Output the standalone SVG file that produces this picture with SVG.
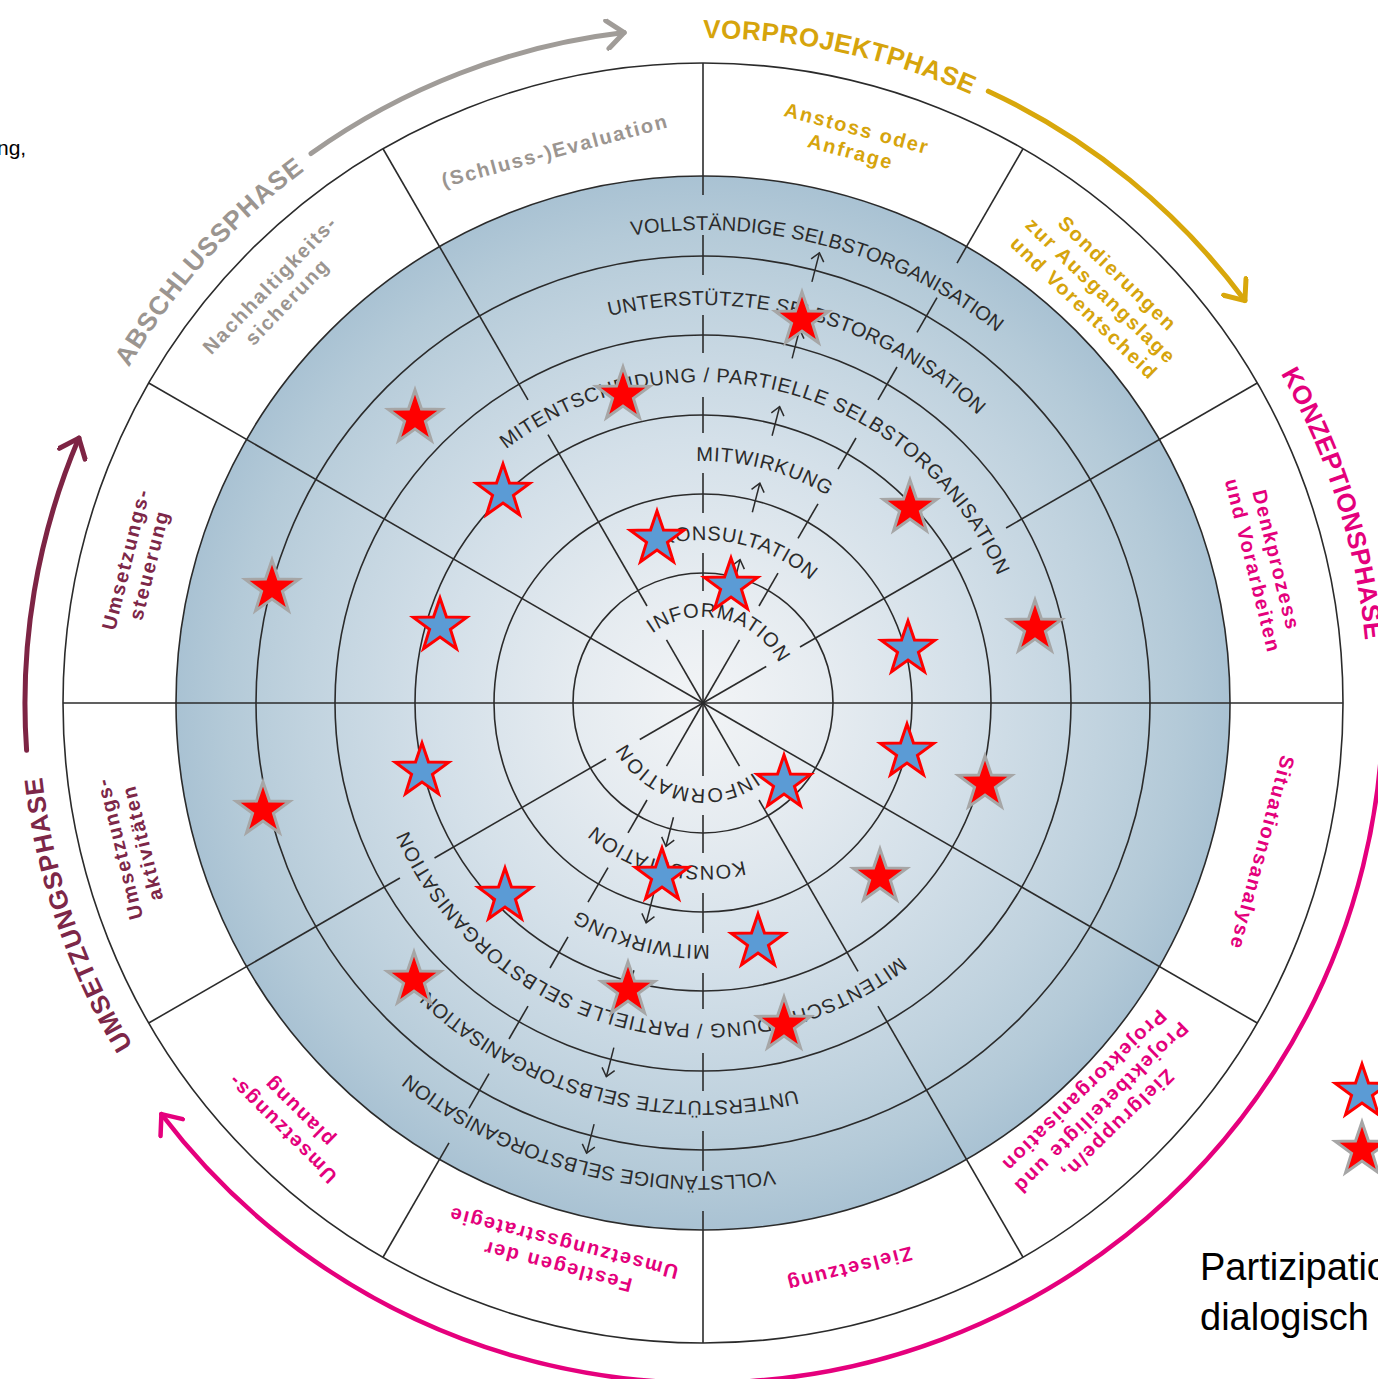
<svg xmlns="http://www.w3.org/2000/svg" xmlns:xlink="http://www.w3.org/1999/xlink" width="1378" height="1379" viewBox="0 0 1378 1379">
<style>
.c{fill:none;stroke:#2b2b2b;stroke-width:1.6}
.sp line{stroke:#2b2b2b;stroke-width:1.6}
.lvl{font-family:"Liberation Sans",Arial,sans-serif;font-size:20px;fill:#2b2b2b}
.ph{font-family:"Liberation Sans",Arial,sans-serif;font-weight:bold;font-size:26px}
.lab{font-family:"Liberation Sans",Arial,sans-serif;font-weight:bold;font-size:20px;letter-spacing:1.8px;text-anchor:middle}
.gray{fill:#9b9590}.gold{fill:#d6a40c}.pink{fill:#e4007c}.maroon{fill:#7d2748}
.arr{fill:none;stroke-linecap:round}
.bs{fill:#5b9bd5;stroke:#ff0000;stroke-width:3}
.rs{fill:#ff0000;stroke:#a6a6a6;stroke-width:3}
.note{font-family:"Liberation Sans",Arial,sans-serif;fill:#000}
</style>
<defs>
<radialGradient id="shade" cx="703" cy="703" r="527" gradientUnits="userSpaceOnUse">
<stop offset="0" stop-color="#f2f4f6"/>
<stop offset="0.25" stop-color="#e5ebf0"/>
<stop offset="0.5" stop-color="#d4e0e9"/>
<stop offset="0.75" stop-color="#c1d3df"/>
<stop offset="0.9" stop-color="#b4cad8"/>
<stop offset="1" stop-color="#a9c2d3"/>
</radialGradient>
<polygon id="star" points="0,-28 6.47,-8.9 26.63,-8.65 10.46,3.4 16.46,22.65 0,11 -16.46,22.65 -10.46,3.4 -26.63,-8.65 -6.47,-8.9"/>
<marker id="mk" viewBox="-10 -8 12 16" refX="0" refY="0" markerWidth="12" markerHeight="16" markerUnits="userSpaceOnUse" orient="auto"><path d="M-8,-6.5 L0,0 L-8,6.5" fill="none" stroke="#2b2b2b" stroke-width="1.5"/></marker>
<marker id="mGray" viewBox="-20 -16 24 32" refX="0" refY="0" markerWidth="24" markerHeight="32" markerUnits="userSpaceOnUse" orient="auto"><path d="M-17,-14 L0,0 L-17,14" fill="none" stroke="#a09c98" stroke-width="5" stroke-linecap="round" stroke-linejoin="round"/></marker>
<marker id="mGold" viewBox="-20 -16 24 32" refX="0" refY="0" markerWidth="24" markerHeight="32" markerUnits="userSpaceOnUse" orient="auto"><path d="M-17,-14 L0,0 L-17,14" fill="none" stroke="#d8a70b" stroke-width="5" stroke-linecap="round" stroke-linejoin="round"/></marker>
<marker id="mPink" viewBox="-20 -16 24 32" refX="0" refY="0" markerWidth="24" markerHeight="32" markerUnits="userSpaceOnUse" orient="auto"><path d="M-17,-14 L0,0 L-17,14" fill="none" stroke="#e5007d" stroke-width="4.5" stroke-linecap="round" stroke-linejoin="round"/></marker>
<marker id="mMaroon" viewBox="-20 -16 24 32" refX="0" refY="0" markerWidth="24" markerHeight="32" markerUnits="userSpaceOnUse" orient="auto"><path d="M-17,-14 L0,0 L-17,14" fill="none" stroke="#7d2444" stroke-width="5" stroke-linecap="round" stroke-linejoin="round"/></marker>
<path id="p1" d="M652.45,633.42 A86,86 0 0 1 788.53,694.01"/>
<path id="p2" d="M662.19,545.20 A163,163 0 0 1 856.17,647.25"/>
<path id="p3" d="M696.24,461.09 A242,242 0 0 1 912.58,582"/>
<path id="p4" d="M506.26,449.35 A321,321 0 0 1 1019.12,647.27"/>
<path id="p5" d="M609.43,316.14 A398,398 0 0 1 1047.68,504"/>
<path id="p6" d="M631.44,235.44 A473,473 0 0 1 1090.47,431.69"/>
<path id="q1" d="M703,38 A665,665 0 0 1 1035.5,127.1"/>
<path id="q2" d="M1280.6,373.5 A665,665 0 0 1 1357.9,818.5"/>
<path id="q3" d="M133.0,1045.5 A665,665 0 0 1 40.5,645.0"/>
<path id="q4" d="M128.8,367.5 A665,665 0 0 1 370.5,127.1"/>
<g id="tickSpoke" class="sp">
<line x1="703" y1="703" x2="703" y2="630"/>
<line x1="703" y1="591" x2="703" y2="553"/>
<line x1="703" y1="513" x2="703" y2="473"/>
<line x1="703" y1="433" x2="703" y2="397"/>
<line x1="703" y1="353" x2="703" y2="315"/>
<line x1="703" y1="275" x2="703" y2="235"/>
<line x1="703" y1="195" x2="703" y2="63"/>
</g>
<g id="gapSpoke" class="sp">
<line x1="703" y1="703" x2="703" y2="630"/>
<line x1="703" y1="591" x2="703" y2="393"/>
<line x1="703" y1="353" x2="703" y2="63"/>
</g>
<g id="fullSpoke" class="sp"><line x1="703" y1="703" x2="703" y2="63"/></g>
<g id="levelArrows">
<line x1="703" y1="585" x2="703" y2="555" stroke="#2b2b2b" stroke-width="1.5" marker-end="url(#mk)"/>
<line x1="703" y1="506" x2="703" y2="476" stroke="#2b2b2b" stroke-width="1.5" marker-end="url(#mk)"/>
<line x1="703" y1="427" x2="703" y2="397" stroke="#2b2b2b" stroke-width="1.5" marker-end="url(#mk)"/>
<line x1="703" y1="347" x2="703" y2="317" stroke="#2b2b2b" stroke-width="1.5" marker-end="url(#mk)"/>
<line x1="703" y1="268" x2="703" y2="238" stroke="#2b2b2b" stroke-width="1.5" marker-end="url(#mk)"/>
</g>
</defs>
<rect width="1378" height="1379" fill="#ffffff"/>

<g id="disc">
<circle cx="703" cy="703" r="640" fill="#ffffff"/>
<circle cx="703" cy="703" r="527" fill="url(#shade)"/>
</g>

<g id="rings">
<circle class="c" cx="703" cy="703" r="130"/>
<circle class="c" cx="703" cy="703" r="209"/>
<circle class="c" cx="703" cy="703" r="288"/>
<circle class="c" cx="703" cy="703" r="368"/>
<circle class="c" cx="703" cy="703" r="447"/>
<circle class="c" cx="703" cy="703" r="527"/>
<circle class="c" cx="703" cy="703" r="640"/>
</g>

<g id="connectors">
<use href="#tickSpoke"/>
<use href="#tickSpoke" transform="rotate(30 703 703)"/>
<use href="#tickSpoke" transform="rotate(180 703 703)"/>
<use href="#tickSpoke" transform="rotate(210 703 703)"/>
<use href="#gapSpoke" transform="rotate(-30 703 703)"/>
<use href="#gapSpoke" transform="rotate(60 703 703)"/>
<use href="#gapSpoke" transform="rotate(150 703 703)"/>
<use href="#gapSpoke" transform="rotate(240 703 703)"/>
<use href="#fullSpoke" transform="rotate(90 703 703)"/>
<use href="#fullSpoke" transform="rotate(120 703 703)"/>
<use href="#fullSpoke" transform="rotate(270 703 703)"/>
<use href="#fullSpoke" transform="rotate(300 703 703)"/>
<use href="#levelArrows" transform="rotate(14.5 703 703)"/>
<use href="#levelArrows" transform="rotate(194.5 703 703)"/>
</g>

<g id="levels-top">
<text class="lvl" letter-spacing="0.9"><textPath href="#p1">INFORMATION</textPath></text>
<text class="lvl" letter-spacing="0.66"><textPath href="#p2">KONSULTATION</textPath></text>
<text class="lvl" letter-spacing="0.75"><textPath href="#p3">MITWIRKUNG</textPath></text>
<text class="lvl" letter-spacing="0.75"><textPath href="#p4">MITENTSCHEIDUNG / PARTIELLE SELBSTORGANISATION</textPath></text>
<text class="lvl" letter-spacing="0.16"><textPath href="#p5">UNTERSTÜTZTE SELBSTORGANISATION</textPath></text>
<text class="lvl" letter-spacing="0.05"><textPath href="#p6">VOLLSTÄNDIGE SELBSTORGANISATION</textPath></text>
</g>
<g id="levels-bottom" transform="rotate(180 703 703)">
<text class="lvl" letter-spacing="0.9"><textPath href="#p1">INFORMATION</textPath></text>
<text class="lvl" letter-spacing="0.66"><textPath href="#p2">KONSULTATION</textPath></text>
<text class="lvl" letter-spacing="0.75"><textPath href="#p3">MITWIRKUNG</textPath></text>
<text class="lvl" letter-spacing="0.75"><textPath href="#p4">MITENTSCHEIDUNG / PARTIELLE SELBSTORGANISATION</textPath></text>
<text class="lvl" letter-spacing="0.16"><textPath href="#p5">UNTERSTÜTZTE SELBSTORGANISATION</textPath></text>
<text class="lvl" letter-spacing="0.05"><textPath href="#p6">VOLLSTÄNDIGE SELBSTORGANISATION</textPath></text>
</g>

<g id="sector-labels">
<g id="lab-anstoss" transform="translate(703 703) rotate(15) translate(0 -583)"><text class="lab gold"><tspan x="0" y="-5">Anstoss oder</tspan><tspan x="0" y="19">Anfrage</tspan></text></g>
<g id="lab-sondierungen" transform="translate(703 703) rotate(44) translate(0 -573)"><text class="lab gold"><tspan x="0" y="-17">Sondierungen</tspan><tspan x="0" y="7">zur Ausgangslage</tspan><tspan x="0" y="31">und Vorentscheid</tspan></text></g>
<g id="lab-denkprozess" transform="translate(703 703) rotate(76) translate(0 -579)"><text class="lab pink"><tspan x="0" y="-5">Denkprozess</tspan><tspan x="0" y="19">und Vorarbeiten</tspan></text></g>
<g id="lab-situation" transform="translate(703 703) rotate(105) translate(0 -579)"><text class="lab pink"><tspan x="0" y="7">Situationsanalyse</tspan></text></g>
<g id="lab-zielgruppe" transform="translate(703 703) rotate(135.5) translate(0 -568)"><text class="lab pink"><tspan x="0" y="-17">Zielgruppe/n,</tspan><tspan x="0" y="7">Projektbeteiligte und</tspan><tspan x="0" y="31">Projektorganisation</tspan></text></g>
<g id="lab-zielsetzung" transform="translate(703 703) rotate(165.5) translate(0 -585)"><text class="lab pink"><tspan x="0" y="7">Zielsetzung</tspan></text></g>
<g id="lab-festlegen" transform="translate(703 703) rotate(194.5) translate(0 -570)"><text class="lab pink"><tspan x="0" y="-5">Festlegen der</tspan><tspan x="0" y="19">Umsetzungsstrategie</tspan></text></g>
<g id="lab-planung" transform="translate(703 703) rotate(224.7) translate(0 -587)"><text class="lab pink"><tspan x="0" y="-5">Umsetzungs-</tspan><tspan x="0" y="19">planung</tspan></text></g>
<g id="lab-aktivitaeten" transform="translate(703 703) rotate(256) translate(0 -590)"><text class="lab maroon"><tspan x="0" y="-5">Umsetzungs-</tspan><tspan x="0" y="19">aktivitäten</tspan></text></g>
<g id="lab-steuerung" transform="translate(703 703) rotate(284) translate(0 -583)"><text class="lab maroon"><tspan x="0" y="-5">Umsetzungs-</tspan><tspan x="0" y="19">steuerung</tspan></text></g>
<g id="lab-nachhaltigkeit" transform="translate(703 703) rotate(314) translate(0 -590)"><text class="lab gray"><tspan x="0" y="-5">Nachhaltigkeits-</tspan><tspan x="0" y="19">sicherung</tspan></text></g>
<g id="lab-evaluation" transform="translate(703 703) rotate(345) translate(0 -572)"><text class="lab gray"><tspan x="0" y="7">(Schluss-)Evaluation</tspan></text></g>
</g>

<g id="phases">
<text class="ph gold" letter-spacing="0.5"><textPath href="#q1">VORPROJEKTPHASE</textPath></text>
<text class="ph pink" letter-spacing="0.3"><textPath href="#q2">KONZEPTIONSPHASE</textPath></text>
<text class="ph maroon" letter-spacing="1"><textPath href="#q3">UMSETZUNGSPHASE</textPath></text>
<text class="ph gray" letter-spacing="1.1"><textPath href="#q4">ABSCHLUSSPHASE</textPath></text>
<path class="arr" d="M311.0,153.5 A675,675 0 0 1 624.2,32.6" stroke="#a09c98" stroke-width="5" marker-end="url(#mGray)"/>
<path class="arr" d="M988.3,91.2 A675,675 0 0 1 1244.9,300.6" stroke="#d8a70b" stroke-width="5" marker-end="url(#mGold)"/>
<path class="arr" d="M1381.3,655.6 A680,680 0 0 1 161.4,1114.1" stroke="#e5007d" stroke-width="4.5" marker-end="url(#mPink)"/>
<path class="arr" d="M26.6,750.3 A678,678 0 0 1 78.9,438.1" stroke="#7d2444" stroke-width="5" marker-end="url(#mMaroon)"/>
</g>

<g id="stars">
<use href="#star" class="rs" x="802" y="320"/>
<use href="#star" class="rs" x="623" y="395"/>
<use href="#star" class="rs" x="415" y="418"/>
<use href="#star" class="rs" x="910" y="508"/>
<use href="#star" class="rs" x="272" y="588"/>
<use href="#star" class="rs" x="1035" y="628"/>
<use href="#star" class="rs" x="263" y="810"/>
<use href="#star" class="rs" x="985" y="784"/>
<use href="#star" class="rs" x="880" y="877"/>
<use href="#star" class="rs" x="414" y="980"/>
<use href="#star" class="rs" x="628" y="990"/>
<use href="#star" class="rs" x="784" y="1025"/>
<use href="#star" class="bs" x="503" y="492"/>
<use href="#star" class="bs" x="657" y="539"/>
<use href="#star" class="bs" x="731" y="586"/>
<use href="#star" class="bs" x="440" y="626"/>
<use href="#star" class="bs" x="908" y="649"/>
<use href="#star" class="bs" x="907" y="752"/>
<use href="#star" class="bs" x="422" y="771"/>
<use href="#star" class="bs" x="784" y="783"/>
<use href="#star" class="bs" x="505" y="896"/>
<use href="#star" class="bs" x="662" y="876"/>
<use href="#star" class="bs" x="758" y="942"/>
</g>

<g id="legend">
<use href="#star" class="bs" x="1362" y="1092"/>
<use href="#star" class="rs" x="1362" y="1150"/>
<text class="note" x="1200" y="1280" font-size="38">Partizipation</text>
<text class="note" x="1200" y="1330" font-size="38">dialogisch</text>
</g>
<text id="fragment" class="note" x="-3" y="155" font-size="21">ng,</text>
</svg>
